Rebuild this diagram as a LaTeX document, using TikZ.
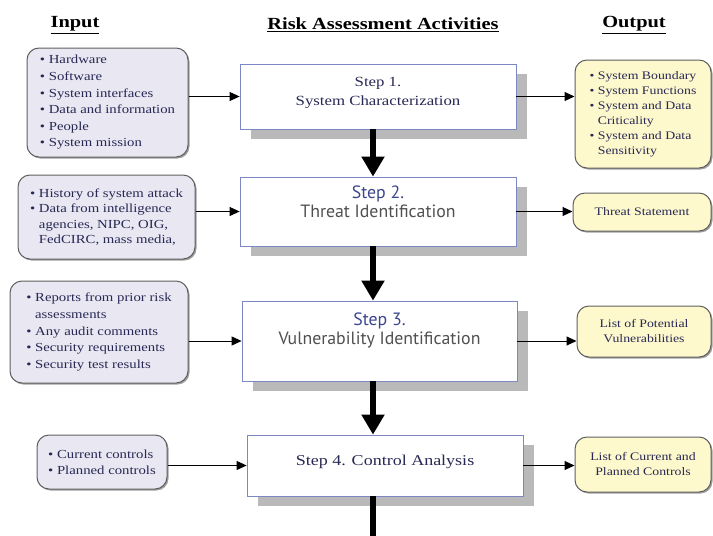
\documentclass[tikz,border=0pt]{standalone}
\usepackage{fontspec}
\setmainfont{Liberation Serif}[FakeStretch=1.2]
\newfontfamily\stepsans{PT Sans}
\usetikzlibrary{arrows.meta,shadows}

\definecolor{infill}{RGB}{233,232,242}
\definecolor{outfill}{RGB}{253,249,204}
\definecolor{boxedge}{RGB}{95,95,95}
\definecolor{stepedge}{RGB}{125,135,195}
\definecolor{shadowgray}{RGB}{185,185,185}
\definecolor{txt}{RGB}{40,40,85}
\definecolor{sansgray}{RGB}{80,80,80}
\definecolor{stepblue}{RGB}{60,70,140}

\newcommand{\itm}{\textbullet\ }
\newcommand{\indnt}{\phantom{\textbullet\ }}
\newcommand{\lift}[2]{\raisebox{#1}[\height][\depth]{\begin{tabular}{@{}c@{}}#2\end{tabular}}}

\tikzset{
  head/.style={font=\fontsize{17}{20}\selectfont\bfseries},
  inbox/.style={draw=boxedge, fill=infill, rounded corners=12pt, line width=1pt,
    align=left, text=txt, font=\fontsize{12.3}{16.6}\selectfont,
    drop shadow={shadow xshift=1.5pt, shadow yshift=-1.5pt, fill=boxedge, opacity=0.6}},
  outbox/.style={inbox, fill=outfill, font=\fontsize{11.5}{15}\selectfont},
  stepbox/.style={draw=stepedge, fill=white, line width=0.8pt, text=txt,
    drop shadow={shadow xshift=11pt, shadow yshift=-10pt, fill=shadowgray, opacity=1}},
  flow/.style={-{Triangle[width=22pt,length=20pt]}, line width=6pt},
  feed/.style={-{Triangle[width=9pt,length=10pt]}, line width=1pt},
}

\begin{document}
\begin{tikzpicture}[x=1pt,y=-1pt]
    \useasboundingbox (0,0) rectangle (713,536);

    % Titoli delle colonne
    \node[head](hin) at (75,25) {\underline{Input}};
    \node[head](hrisk) at (383,25) {\underline{Risk Assessment Activities}};
    \node[head](hout) at (634,25) {\underline{Output}};

    % Passi dell'analisi (colonna centrale)
    \node[stepbox, minimum width=276pt, minimum height=65pt, font=\fontsize{14}{19}\selectfont](st1) at (378,96.5)
        {\lift{4pt}{Step 1.\\ System Characterization}};
    \node[stepbox, minimum width=276pt, minimum height=69pt, font=\stepsans\fontsize{17.8}{18.5}\selectfont](st2) at (378,211.5)
        {\lift{7pt}{\textcolor{stepblue}{Step 2.}\\ \textcolor{sansgray}{Threat Identification}}};
    \node[stepbox, minimum width=275pt, minimum height=80pt, font=\stepsans\fontsize{17.8}{19}\selectfont](st3) at (379.5,341)
        {\lift{10pt}{\textcolor{stepblue}{Step 3.}\\ \textcolor{sansgray}{Vulnerability Identification}}};
    \node[stepbox, minimum width=276pt, minimum height=61pt, font=\fontsize{15}{19}\selectfont](st4) at (385,465.5)
        {\lift{4pt}{Step 4. Control Analysis}};

    % Ingressi (colonna sinistra)
    \node[inbox, minimum width=161pt, minimum height=109pt](in1) at (107.5,102.5)
        {\itm Hardware\\ \itm Software\\ \itm System interfaces\\ \itm Data and information\\ \itm People\\ \itm System mission};
    \node[inbox, minimum width=177pt, minimum height=84pt, font=\fontsize{12.3}{15.5}\selectfont](in2) at (106.5,217)
        {\itm History of system attack\\ \itm Data from intelligence\\ \indnt agencies, NIPC, OIG,\\ \indnt FedCIRC, mass media,};
    \node[inbox, minimum width=178pt, minimum height=102pt](in3) at (99,332)
        {\itm Reports from prior risk\\ \indnt assessments\\ \itm Any audit comments\\ \itm Security requirements\\ \itm Security test results};
    \node[inbox, minimum width=130pt, minimum height=54pt, font=\fontsize{12.3}{16}\selectfont](in4) at (102,462)
        {\itm Current controls\\ \itm Planned controls};

    % Uscite (colonna destra)
    \node[outbox, minimum width=136pt, minimum height=108pt](out1) at (643,114)
        {\itm System Boundary\\ \itm System Functions\\ \itm System and Data\\ \indnt Criticality\\ \itm System and Data\\ \indnt Sensitivity};
    \node[outbox, minimum width=138pt, minimum height=38pt](out2) at (642,212) {Threat Statement};
    \node[outbox, minimum width=134pt, minimum height=51pt, align=center](out3) at (644,331.5)
        {List of Potential\\ Vulnerabilities};
    \node[outbox, minimum width=136pt, minimum height=55pt, align=center](out4) at (643,464.5)
        {List of Current and\\ Planned Controls};

    % Asse verticale delle frecce grosse
    \coordinate (spine) at (373,0);
    \coordinate (exit) at (373,536);

    % Frecce tra i passi
    \draw[flow] (st1.south -| spine)--(st2.north -| spine);
    \draw[flow] (st2.south -| spine)--(st3.north -| spine);
    \draw[flow] (st3.south -| spine)--(st4.north -| spine);
    \draw[line width=6pt] (st4.south -| spine)--(exit);

    % Collegamenti ingressi -> passi
    \draw[feed] (in1.east |- st1.west)--(st1.west);
    \draw[feed] (in2.east |- st2.west)--(st2.west);
    \draw[feed] (in3.east |- st3.west)--(st3.west);
    \draw[feed] (in4.east |- st4.west)--(st4.west);

    % Collegamenti passi -> uscite
    \draw[feed] (st1.east)--(st1.east -| out1.west);
    \draw[feed] (st2.east)--(st2.east -| out2.west);
    \draw[feed] (st3.east)--(st3.east -| out3.west);
    \draw[feed] (st4.east)--(st4.east -| out4.west);
\end{tikzpicture}
\end{document}
